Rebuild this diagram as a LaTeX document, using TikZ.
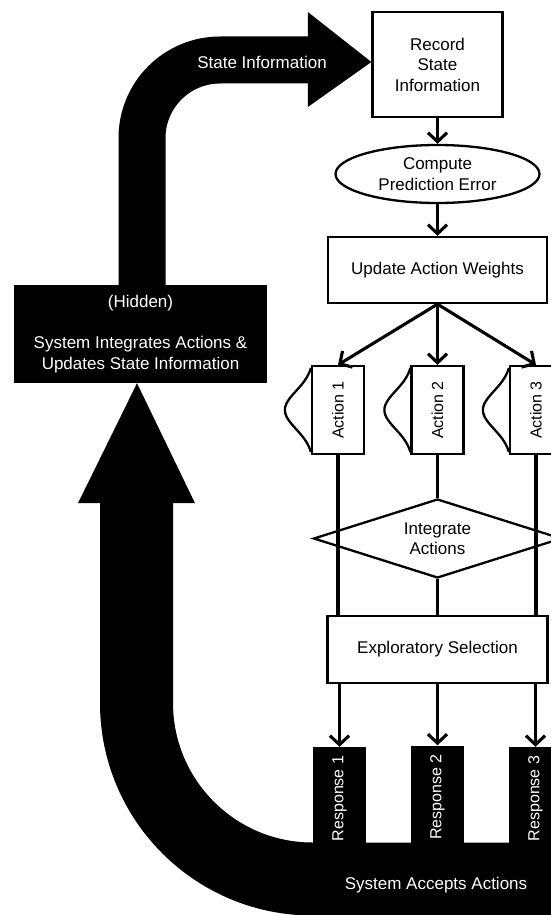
\documentclass[tikz,border=0pt]{standalone}
\usepackage{fontspec}
\setmainfont{Liberation Sans}
\usetikzlibrary{shapes.geometric, arrows.meta, positioning, calc}

\tikzset{
  block/.style={draw, line width=2.3pt, align=center, inner sep=0pt,
    font=\fontsize{17}{20.5}\selectfont},
  blackblock/.style={fill=black, text=white, align=center, inner sep=0pt,
    font=\fontsize{17}{20.5}\selectfont},
  oval/.style={block, ellipse},
  decision/.style={block, diamond, aspect=3.1},
  actionbox/.style={block, rotate=90, minimum width=88pt, minimum height=52pt,
    font=\fontsize{16}{19}\selectfont},
  respbox/.style={blackblock, rotate=90, minimum width=103pt, minimum height=53pt,
    font=\fontsize{16}{19}\selectfont},
  flow/.style={line width=3.1pt, -{Straight Barb[length=9pt,width=19pt]}},
  link/.style={line width=3.1pt},
  bell/.style={line width=2.3pt},
  label/.style={text=white, font=\fontsize{17}{20.5}\selectfont}
}

\begin{document}
\begin{tikzpicture}[x=1pt, y=-1pt]
  \useasboundingbox (0,0) rectangle (551,915);
  \clip (0,0) rectangle (551,915);

  % Add the boxes
  \node[block, minimum width=130pt, minimum height=105pt] (record) at (437.5,64.5) {Record\\State\\Information};
  \node[oval, minimum width=204pt, minimum height=58pt] (error) at (437.5,174) {Compute\\Prediction Error};
  \node[block, minimum width=219pt, minimum height=66pt] (update) at (437.5,270) {Update Action Weights};
  \node[actionbox] (act1) at (338,410) {Action 1};
  \node[actionbox] (act2) at (437.5,410) {Action 2};
  \node[actionbox] (act3) at (536,410) {Action 3};
  \node[decision, minimum width=248pt, minimum height=79pt] (integrate) at (437.5,538.5) {Integrate\\Actions};
  \node[block, minimum width=220pt, minimum height=67pt] (explore) at (437.5,649.5) {Exploratory Selection};
  \node[blackblock, minimum width=253pt, minimum height=98pt] (hidden) at (140.5,334)
    {(Hidden)\\[20.5pt]System Integrates Actions \&\\Updates State Information};

  % Big loop arrows
  \draw[line width=73pt, rounded corners=176pt] (560,879) -| ($(hidden.south)+(-4,120)$);
  \fill ($(hidden.south)+(-62.5,120)$) -- ($(hidden.south)+(-3.5,0)$) -- ($(hidden.south)+(54.5,120)$) -- cycle;
  \draw[line width=47pt, rounded corners=78pt] ($(hidden.north)+(1.5,0)$) |- ($(record.west)+(-63.5,-4.5)$);
  \fill ($(record.west)+(-63.5,-52.5)$) -- ($(record.west)+(0,-2.5)$) -- ($(record.west)+(-63.5,42.5)$) -- cycle;
  \node[label] (stateinfo) at (262,62) {State Information};
  \node[label] (accept) at (436,885) {System Accepts Actions};

  % Responses
  \node[respbox] (resp1) at (339.5,798.5) {Response 1};
  \node[respbox] (resp2) at (437.5,797) {Response 2};
  \node[respbox] (resp3) at (535.5,798.5) {Response 3};

  % Connect the boxes
  \draw[flow] (record.south) -- (error.north);
  \draw[flow] (error.south) -- (update.north);
  \foreach \i in {1,2,3}
    \draw[flow] (update.south) -- (act\i.east);
  \draw[link] (act1.west) -- (act1.west |- explore.north);
  \draw[link] (act3.west) -- (act3.west |- explore.north);
  \draw[link] (act2.west) -- (integrate.north);
  \draw[link] (integrate.south) -- (explore.north);
  \foreach \i in {1,2,3}
    \draw[flow] (explore.south -| resp\i.east) -- (resp\i.east);

  % Bell curves beside the actions
  \foreach \i in {1,2,3}
    \draw[bell, shift={(act\i.north)}] plot[domain=-42:42, samples=41, smooth]
      ({-28.5*(exp(0-(\x/27)*(\x/27))-0.089)}, {\x});
\end{tikzpicture}
\end{document}
